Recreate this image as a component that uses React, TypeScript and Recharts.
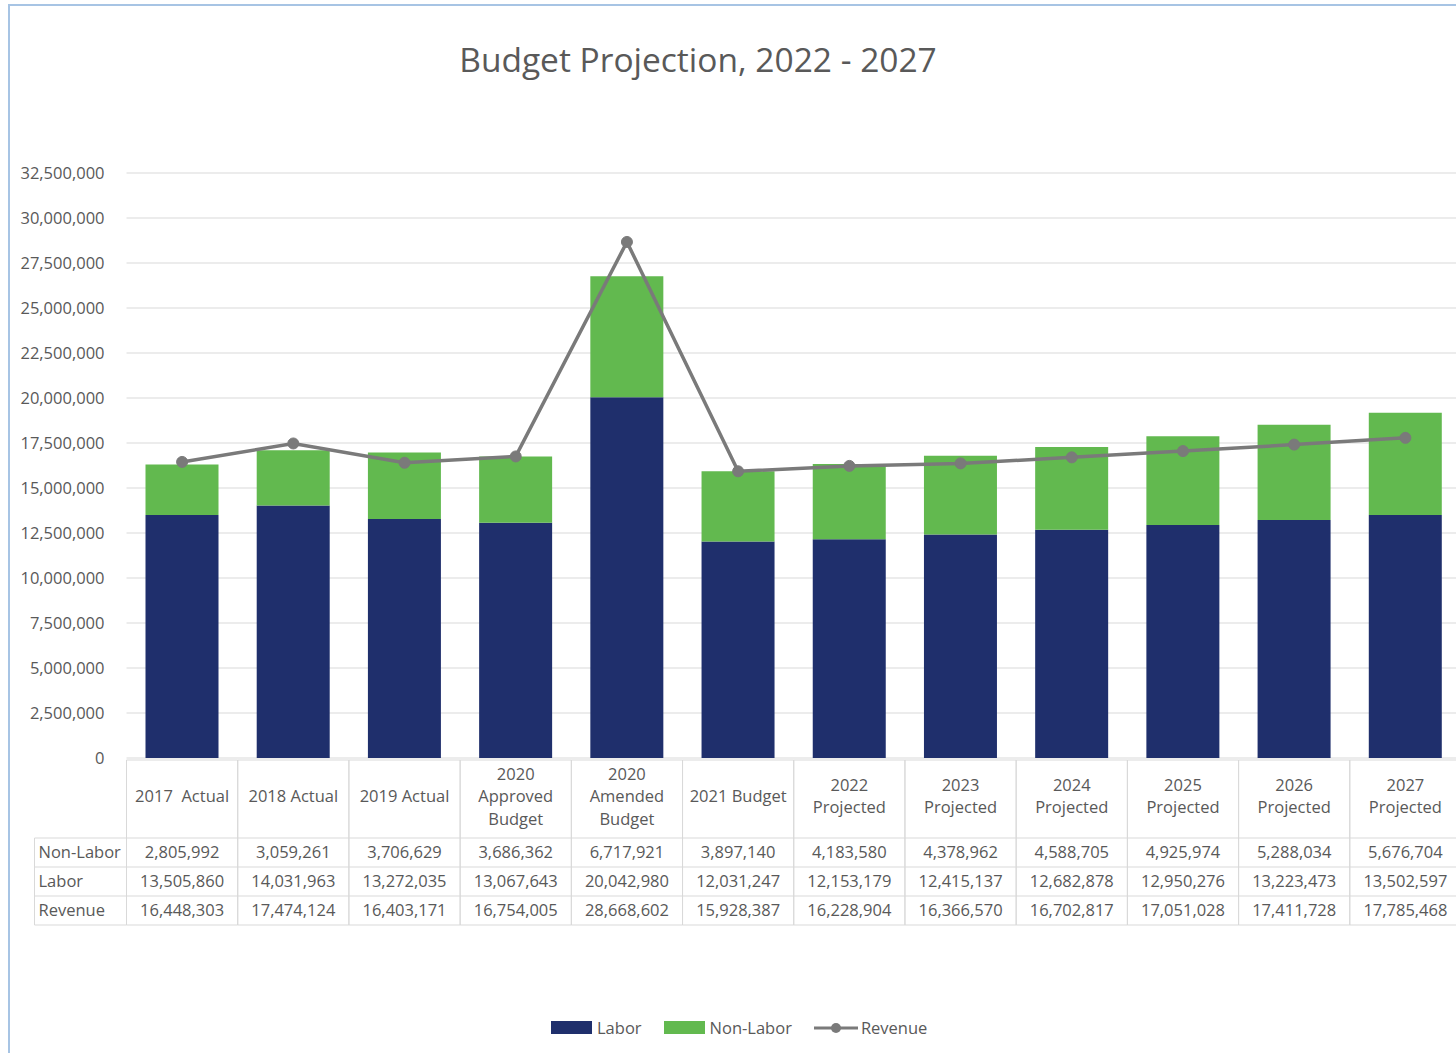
import { ComposedChart, Bar, Line, XAxis, YAxis, CartesianGrid, Legend } from 'recharts';

// categories (line breaks as in the data table header)
const categories = [
  '2017  Actual',
  '2018 Actual',
  '2019 Actual',
  '2020\nApproved\nBudget',
  '2020\nAmended\nBudget',
  '2021 Budget',
  '2022\nProjected',
  '2023\nProjected',
  '2024\nProjected',
  '2025\nProjected',
  '2026\nProjected',
  '2027\nProjected',
];

const nonLabor = [2805992, 3059261, 3706629, 3686362, 6717921, 3897140, 4183580, 4378962, 4588705, 4925974, 5288034, 5676704];
const labor = [13505860, 14031963, 13272035, 13067643, 20042980, 12031247, 12153179, 12415137, 12682878, 12950276, 13223473, 13502597];
const revenue = [16448303, 17474124, 16403171, 16754005, 28668602, 15928387, 16228904, 16366570, 16702817, 17051028, 17411728, 17785468];

const yTicks = [0, 2500000, 5000000, 7500000, 10000000, 12500000, 15000000, 17500000, 20000000, 22500000, 25000000, 27500000, 30000000, 32500000];

const rowNames = ['Non-Labor', 'Labor', 'Revenue'];

const data = categories.map((name, i) => ({
  name,
  labor: labor[i],
  nonLabor: nonLabor[i],
  revenue: revenue[i],
}));

const LABOR = '#1f2f6c';
const NON_LABOR = '#62b94f';
const REVENUE = '#7a7a7a';
const TEXT = '#595959';
const BORDER = '#d9d9d9';
const FONT = '"Open Sans", sans-serif';

const CHART_W = 1500;
const CHART_H = 1053;
const MARGIN = { top: 173, right: 39, left: 0, bottom: 127 };
const Y_AXIS_W = 126.5;
const COL_W = (CHART_W - MARGIN.left - MARGIN.right - Y_AXIS_W) / categories.length;

const fmt = (v: number) => v.toLocaleString('en-US');

// x-axis tick draws the header cell plus the data-table column beneath it
function TableTick(props: any) {
  const { x, y, payload, index } = props;
  const i = payload?.index ?? index;
  const half = COL_W / 2;
  const left = x - half;
  const right = x + half;
  const top = y + 2;
  const headBottom = y + 80;
  const rowH = 29;
  const rowTops = [headBottom, headBottom + rowH, headBottom + rowH * 2];
  const tableBottom = headBottom + rowH * 3;
  const lines = String(payload.value).split('\n');
  const lineH = 22.5;
  const firstY = y + 37.5 - ((lines.length - 1) * lineH) / 2;
  const rows = [nonLabor[i], labor[i], revenue[i]];
  const labelLeft = left - 92;

  return (
    <g fontFamily={FONT} fontSize={16.5} fill={TEXT}>
      {/* cell borders */}
      <line x1={left} x2={right} y1={top} y2={top} stroke={BORDER} />
      <line x1={left} x2={left} y1={top} y2={tableBottom} stroke={BORDER} />
      <line x1={right} x2={right} y1={top} y2={tableBottom} stroke={BORDER} />
      {[...rowTops, tableBottom].map((ry, k) => (
        <line key={k} x1={left} x2={right} y1={ry} y2={ry} stroke={BORDER} />
      ))}
      {lines.map((t, k) => (
        <text key={k} x={x} y={firstY + k * lineH} textAnchor="middle" dominantBaseline="central" style={{ whiteSpace: 'pre' }}>
          {t}
        </text>
      ))}
      {rows.map((v, k) => (
        <text key={k} x={x} y={rowTops[k] + rowH / 2 - 1.5} textAnchor="middle" dominantBaseline="central">
          {fmt(v)}
        </text>
      ))}
      {i === 0 && (
        <g>
          {[...rowTops, tableBottom].map((ry, k) => (
            <line key={k} x1={labelLeft} x2={left} y1={ry} y2={ry} stroke={BORDER} />
          ))}
          <line x1={labelLeft} x2={labelLeft} y1={headBottom} y2={tableBottom} stroke={BORDER} />
          {rowNames.map((n, k) => (
            <text key={k} x={labelLeft + 4} y={rowTops[k] + rowH / 2 - 1.5} textAnchor="start" dominantBaseline="central">
              {n}
            </text>
          ))}
        </g>
      )}
    </g>
  );
}

function LegendContent() {
  const item = { display: 'flex', alignItems: 'center', marginRight: 22 } as const;
  return (
    <div style={{ display: 'flex', alignItems: 'center', fontFamily: FONT, fontSize: 16.5, color: TEXT }}>
      <div style={item}>
        <span style={{ width: 41, height: 13, background: LABOR, marginRight: 5 }} />
        <span>Labor</span>
      </div>
      <div style={item}>
        <span style={{ width: 41, height: 13, background: NON_LABOR, marginRight: 5 }} />
        <span>Non-Labor</span>
      </div>
      <div style={item}>
        <svg width={44} height={14} style={{ marginRight: 3 }}>
          <line x1={0} x2={44} y1={7} y2={7} stroke={REVENUE} strokeWidth={3} />
          <circle cx={22} cy={7} r={5} fill={REVENUE} />
        </svg>
        <span>Revenue</span>
      </div>
    </div>
  );
}

export default function App() {
  return (
    <div style={{ position: 'absolute', left: 0, top: 0, width: 1456, height: 1053, overflow: 'hidden', background: '#fff' }}>
      <div
        style={{
          position: 'absolute',
          left: 8,
          top: 4,
          width: 2000,
          height: 2000,
          borderLeft: '2px solid #a7c4e4',
          borderTop: '2px solid #a7c4e4',
        }}
      />
      <div
        style={{
          position: 'absolute',
          left: 0,
          width: 1396,
          top: 36,
          textAlign: 'center',
          fontFamily: FONT,
          fontSize: 33.5,
          color: TEXT,
          zIndex: 2,
        }}
      >
        Budget Projection, 2022 - 2027
      </div>
      <div style={{ position: 'absolute', left: 0, top: 0 }}>
        <ComposedChart width={CHART_W} height={CHART_H} data={data} margin={MARGIN}>
          <CartesianGrid horizontal vertical={false} stroke={BORDER} strokeWidth={1} />
          <XAxis
            dataKey="name"
            height={168}
            interval={0}
            axisLine={false}
            tickLine={false}
            tickSize={0}
            tickMargin={0}
            tick={(p: any) => <TableTick {...p} />}
          />
          <YAxis
            width={Y_AXIS_W}
            domain={[0, 32500000]}
            ticks={yTicks}
            interval={0}
            axisLine={false}
            tickLine={false}
            tickSize={0}
            tickMargin={22}
            tickFormatter={fmt}
            tick={{ fill: TEXT, fontSize: 16.5, fontFamily: FONT }}
          />
          <Legend
            layout="horizontal"
            verticalAlign="middle"
            align="center"
            content={() => <LegendContent />}
            wrapperStyle={{ left: 551, top: 1016, width: 450 }}
          />
          <Bar dataKey="labor" name="Labor" stackId="a" fill={LABOR} barSize={73} isAnimationActive={false} />
          <Bar dataKey="nonLabor" name="Non-Labor" stackId="a" fill={NON_LABOR} barSize={73} isAnimationActive={false} />
          <Line
            type="linear"
            dataKey="revenue"
            name="Revenue"
            stroke={REVENUE}
            strokeWidth={3.5}
            dot={{ r: 5.5, fill: REVENUE, stroke: REVENUE, strokeWidth: 1 }}
            isAnimationActive={false}
          />
        </ComposedChart>
      </div>
    </div>
  );
}
